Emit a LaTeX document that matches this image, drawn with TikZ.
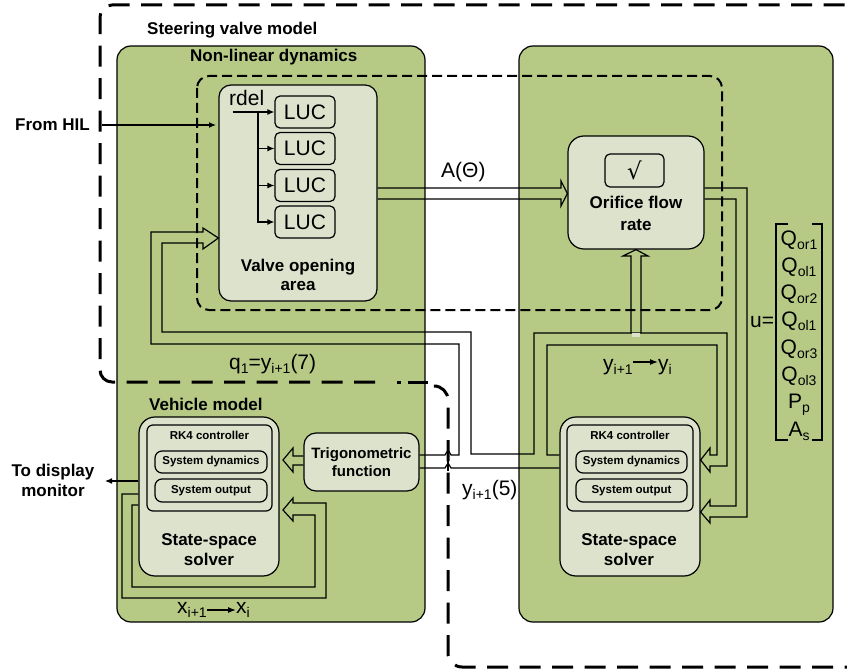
\documentclass[tikz,border=0pt]{standalone}
\usepackage{fontspec}
\setmainfont{Liberation Sans}
\newfontfamily\dejavu{DejaVu Sans}
\usetikzlibrary{arrows.meta,calc}
\definecolor{panelgreen}{RGB}{182,202,134}
\definecolor{boxlight}{RGB}{221,226,205}
\newcommand{\fsz}[1]{\fontsize{#1}{#1}\selectfont}
\newcommand{\mysub}[1]{\raisebox{-4pt}{\fsz{14}#1}}
\tikzset{
  panel/.style={draw, line width=1.2pt, fill=panelgreen, rounded corners=14pt, inner sep=0pt},
  lbox/.style={draw, line width=1.2pt, fill=boxlight, rounded corners=#1, inner sep=0pt},
  lbox/.default=12pt,
  lbl/.style={font=\fsz{17}\bfseries, inner sep=0pt},
  trigf/.style={font=\fsz{15}\bfseries, inner sep=0pt},
  smallf/.style={font=\fsz{11.5}\bfseries, inner sep=0pt},
  mathf/.style={font=\fsz{21}, inner sep=0pt},
  conn/.style={line width=1.2pt, -{Latex[length=7pt,width=6pt]}},
  dl/.style={line width=1.2pt, line join=miter},
  outerdash/.style={line width=3pt, dash pattern=on 21pt off 11.5pt},
  innerdash/.style={line width=2pt, dash pattern=on 10pt off 5pt, rounded corners=12pt},
}
\begin{document}
\begin{tikzpicture}[x=1pt,y=-1pt]
\useasboundingbox (0,0) rectangle (847,669);
\clip (0,0) rectangle (847,669);

% green panels
\node[panel, minimum width=308pt, minimum height=576pt] (pl) at (271,334) {};
\node[panel, minimum width=314pt, minimum height=576pt] (pr) at (676,334) {};

% inner dashed region
\draw[innerdash] (197,76) rectangle (722,310);

% titles
\node[lbl, anchor=base west] (tsvm) at (147,35) {Steering valve model};
\node[lbl, anchor=base west] (tnld) at (190,62) {Non-linear dynamics};
\node[lbl, anchor=base west] (tveh) at (149,410) {Vehicle model};
\node[lbl, anchor=base west] (thil) at (15,130) {From HIL};
\node[lbl, anchor=base] (tdisp1) at (53,476) {To display};
\node[lbl, anchor=base] (tdisp2) at (53,496) {monitor};

% valve opening area
\node[lbox=12pt, minimum width=158pt, minimum height=216pt] (valve) at (298,193) {};
\node[lbox=5pt, mathf, minimum width=60pt, minimum height=32pt] (luc1) at (305,112) {LUC};
\node[lbox=5pt, mathf, minimum width=60pt, minimum height=32pt] (luc2) at (305,148.5) {LUC};
\node[lbox=5pt, mathf, minimum width=60pt, minimum height=32pt] (luc3) at (305,185.5) {LUC};
\node[lbox=5pt, mathf, minimum width=60pt, minimum height=32pt] (luc4) at (305,222) {LUC};
\node[mathf, anchor=base west] (rdel) at (229,106) {rdel};
\node[lbl, anchor=base] (tv1) at (298,271) {Valve opening};
\node[lbl, anchor=base] (tv2) at (298,290) {area};

% orifice flow rate
\node[lbox=16pt, minimum width=136pt, minimum height=113pt] (orifice) at (636,192.5) {};
\node[lbox=5pt, minimum width=59pt, minimum height=33pt, font=\dejavu\fsz{23}] (sq) at (634.5,170.5) {√};
\node[lbl, anchor=base] (to1) at (636,208) {Orifice flow};
\node[lbl, anchor=base] (to2) at (636,230) {rate};

% vehicle state-space solver
\node[lbox=16pt, minimum width=140pt, minimum height=159pt] (solverL) at (209,496.5) {};
\node[lbox=6pt, minimum width=125pt, minimum height=86pt] (rkL) at (209.5,468) {};
\node[smallf, anchor=base] (trkL) at (209.5,439) {RK4 controller};
\node[lbox=7pt, smallf, minimum width=112pt, minimum height=22pt] (sdL) at (211,462) {System dynamics};
\node[lbox=7pt, smallf, minimum width=112pt, minimum height=23pt] (soL) at (211,490.5) {System output};
\node[lbl, anchor=base] (tsL1) at (209,545) {State-space};
\node[lbl, anchor=base] (tsL2) at (209,565) {solver};

% trigonometric function
\node[lbox=12pt, minimum width=115pt, minimum height=58pt] (trig) at (361.5,462) {};
\node[trigf, anchor=base] (tt1) at (361.5,458) {Trigonometric};
\node[trigf, anchor=base] (tt2) at (361.5,476) {function};

% valve state-space solver
\node[lbox=16pt, minimum width=140pt, minimum height=159pt] (solverR) at (630,496.5) {};
\node[lbox=6pt, minimum width=126pt, minimum height=86pt] (rkR) at (630,468) {};
\node[smallf, anchor=base] (trkR) at (630,439) {RK4 controller};
\node[lbox=7pt, smallf, minimum width=111pt, minimum height=22pt] (sdR) at (631.5,462) {System dynamics};
\node[lbox=7pt, smallf, minimum width=111pt, minimum height=23pt] (soR) at (631.5,490.5) {System output};
\node[lbl, anchor=base] (tsR1) at (629,545) {State-space};
\node[lbl, anchor=base] (tsR2) at (629,565) {solver};

% simple arrows
\coordinate (hil) at (102,125);
\draw[conn] (hil) -- (216,125);
\coordinate (rdelst) at (233,112);
\coordinate (br) at (258,112);
\draw[conn] (rdelst) -- (luc1.west);
\draw[conn] (br) |- (luc2.west);
\draw[conn] (br) |- (luc3.west);
\draw[conn] (br) |- (luc4.west);
\coordinate (disp) at (105,481);
\draw[conn] (solverL.west |- disp) -- (disp);

% A(Theta) double arrow
\draw[dl] (valve.east |- 0,188) -- (561,188) -- (561,181) -- (orifice.west |- 0,193.5)
  -- (561,206) -- (561,199) -- (valve.east |- 0,199);
\node[mathf, anchor=base west] (tA) at (441,177) {A(Θ)};

% up arrow into orifice
\draw[dl] (631,333) -- (631,256) -- (623,256) -- (orifice.south) -- (648,256) -- (641,256) -- (641,333);

% big q1 / y loop
\draw[dl] (trig.east |- 0,455) -- (445,455) -- (448,450) -- (451,455) -- (459,455) -- (459,344)
  -- (151,344) -- (151,232) -- (203,232) -- (203,228) -- (valve.west |- 0,238)
  -- (203,249) -- (203,243) -- (162,243) -- (162,332) -- (471,332) -- (471,454)
  -- (534,454) -- (534,333) -- (727,333) -- (727,466) -- (710,466) -- (710,472)
  -- (solverR.east |- 0,460) -- (710,448) -- (710,455) -- (717,455) -- (717,345)
  -- (547,345) -- (547,455) -- (solverR.west |- 0,455);
\fill[boxlight] (631.8,332.5) rectangle (640.2,336.5);
% y_{i+1}(5) line
\draw[dl] (trig.east |- 0,468) -- (445,468) -- (448,463) -- (451,468) -- (solverR.west |- 0,468);

% orifice output to right solver
\draw[dl] (orifice.east |- 0,188) -- (747,188) -- (747,517) -- (710,517) -- (710,523)
  -- (solverR.east |- 0,512) -- (710,500) -- (710,506) -- (736,506) -- (736,199)
  -- (orifice.east |- 0,199);

% trig to left solver
\draw[dl] (trig.west |- 0,456) -- (293,456) -- (293,448) -- (283,460) -- (293,472)
  -- (293,465) -- (trig.west |- 0,465);

% left feedback loop
\draw[dl] (solverL.west |- 0,494) -- (122,494) -- (122,598) -- (326,598) -- (326,503)
  -- (293,503) -- (293,498) -- (283,510) -- (293,521) -- (293,515) -- (315,515)
  -- (315,587) -- (132,587) -- (132,505) -- (solverL.west |- 0,505);

% math labels
\node[mathf, anchor=base west] (tq) at (229,369) {q\mysub{1}=y\mysub{i+1}(7)};
\node[mathf, anchor=base west] (ty5) at (462,495) {y\mysub{i+1}(5)};
\node[mathf, anchor=base west] (ya) at (603,370) {y\mysub{i+1}};
\node[mathf, anchor=base west] (yb) at (658,370) {y\mysub{i}};
\draw[line width=1.2pt, -{Latex[length=8pt,width=6pt]}] (ya.east |- 0,362) -- (yb.west |- 0,362);
\node[mathf, anchor=base west] (xa) at (177,613) {x\mysub{i+1}};
\node[mathf, anchor=base west] (xb) at (236,613) {x\mysub{i}};
\draw[line width=1.2pt, -{Latex[length=8pt,width=6pt]}] (xa.east |- 0,610) -- (xb.west |- 0,610);

% input vector u
\node[mathf, anchor=base west] (ueq) at (750,327) {u=};
\foreach \e [count=\i] in {Q\mysub{or1}, Q\mysub{ol1}, Q\mysub{or2}, Q\mysub{ol1}, Q\mysub{or3}, Q\mysub{ol3}, P\mysub{p}, A\mysub{s}}
  \node[mathf, anchor=base] (u\i) at (799,{245+27.3*(\i-1)}) {\e};
\draw[line width=1.2pt] (788,224) -- (776,224) -- (776,440) -- (788,440);
\draw[line width=1.2pt] (812,224) -- (822,224) -- (822,440) -- (812,440);

% outer dashed boundary
\draw[outerdash, rounded corners=12pt] (375,382) -- (100,382) -- (100,5) -- (870,5) -- (870,700);
\draw[line width=3pt] (397,382) -- (401,382) (408,382) -- (428,382);
\draw[outerdash, rounded corners=14pt] (437,386) -- (448,386) -- (448,667) -- (870,667);
\draw[line width=2.4pt] (448,448) -- (448,471);
\end{tikzpicture}
\end{document}
